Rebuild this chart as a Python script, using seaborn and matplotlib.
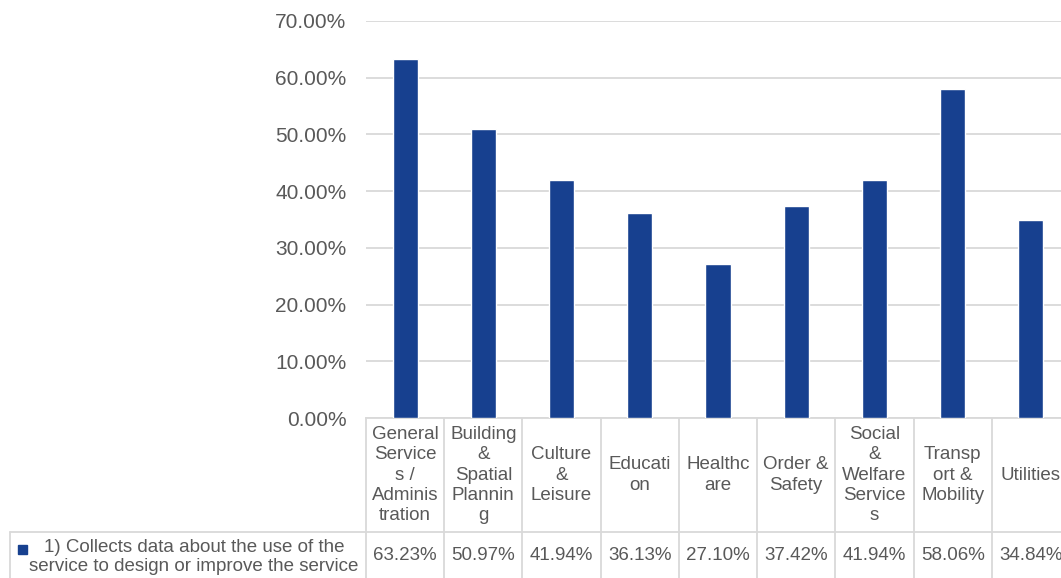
import matplotlib
matplotlib.use("Agg")
import matplotlib.pyplot as plt
import matplotlib.transforms as mtrans
from matplotlib.lines import Line2D
from matplotlib.patches import Rectangle
import seaborn as sns
import pandas as pd

# ---- data ----
categories = ["General Services / Administration", "Building & Spatial Planning",
              "Culture & Leisure", "Education", "Healthcare", "Order & Safety",
              "Social & Welfare Services", "Transport & Mobility", "Utilities"]
header_labels = ["General\nService\ns /\nAdminis\ntration",
                 "Building\n&\nSpatial\nPlannin\ng",
                 "Culture\n&\nLeisure",
                 "Educati\non",
                 "Healthc\nare",
                 "Order &\nSafety",
                 "Social\n&\nWelfare\nService\ns",
                 "Transp\nort &\nMobility",
                 "Utilities"]
values = [63.23, 50.97, 41.94, 36.13, 27.10, 37.42, 41.94, 58.06, 34.84]
series_name = "1) Collects data about the use of the\nservice to design or improve the service"
yticks = [0, 10, 20, 30, 40, 50, 60, 70]

# ---- style ----
BAR = "#17408F"
GRID = "#D9D9D9"
TXT = "#595959"
W, H = 1061, 578

sns.set_theme(style="white")
plt.rcParams['font.family'] = ['Liberation Sans', 'DejaVu Sans']

fig = plt.figure(figsize=(W / 100, H / 100), dpi=100)
fig.patch.set_facecolor("white")


def fx(px):
    return px / W


def fy(py):
    return 1 - py / H


ax = fig.add_axes([fx(366), fy(418), fx(1070) - fx(366), fy(21) - fy(418)])
df = pd.DataFrame({"cat": categories, "val": values})
sns.barplot(data=df, x="cat", y="val", color=BAR, width=0.32, saturation=1,
            ax=ax, zorder=3)
ax.set_xlim(-0.5, len(categories) - 0.5)
ax.set_ylim(0, 70)
ax.set_yticks(yticks)
ax.set_yticklabels([f"{v:.2f}%" for v in yticks], fontsize=15, color=TXT)
ax.tick_params(axis="y", length=0, pad=14)
ax.set_xticks([])
ax.set_xlabel("")
ax.set_ylabel("")
ax.yaxis.grid(True, color=GRID, linewidth=1.3, zorder=0)
ax.xaxis.grid(False)
for s in ["left", "top", "right"]:
    ax.spines[s].set_visible(False)
ax.spines["bottom"].set_color(GRID)
ax.spines["bottom"].set_linewidth(1.3)

# ---- data table ----
trans = mtrans.blended_transform_factory(ax.transData, fig.transFigure)
for i in range(len(categories) + 1):
    fig.add_artist(Line2D([i - 0.5, i - 0.5], [fy(418), 0], transform=trans,
                          color=GRID, linewidth=1.3))
fig.add_artist(Line2D([fx(10), fx(1070)], [fy(532), fy(532)],
                      transform=fig.transFigure, color=GRID, linewidth=1.3))
fig.add_artist(Line2D([fx(10), fx(10)], [fy(532), 0],
                      transform=fig.transFigure, color=GRID, linewidth=1.3))

for i, lab in enumerate(header_labels):
    fig.text(i, fy(475), lab, transform=trans, ha="center", va="center",
             fontsize=13.5, color=TXT, linespacing=1.24, multialignment="center")
    fig.text(i, fy(556), f"{values[i]:.2f}%", transform=trans, ha="center",
             va="center", fontsize=13.5, color=TXT)

fig.add_artist(Rectangle((fx(17.5), fy(553.5)), 9 / W, 9 / H,
                         transform=fig.transFigure, color=BAR))
fig.text(fx(194), fy(557), series_name, ha="center", va="center", fontsize=13.5,
         color=TXT, linespacing=1.12, multialignment="center")

fig.savefig("out.png", dpi=100, facecolor="white")
